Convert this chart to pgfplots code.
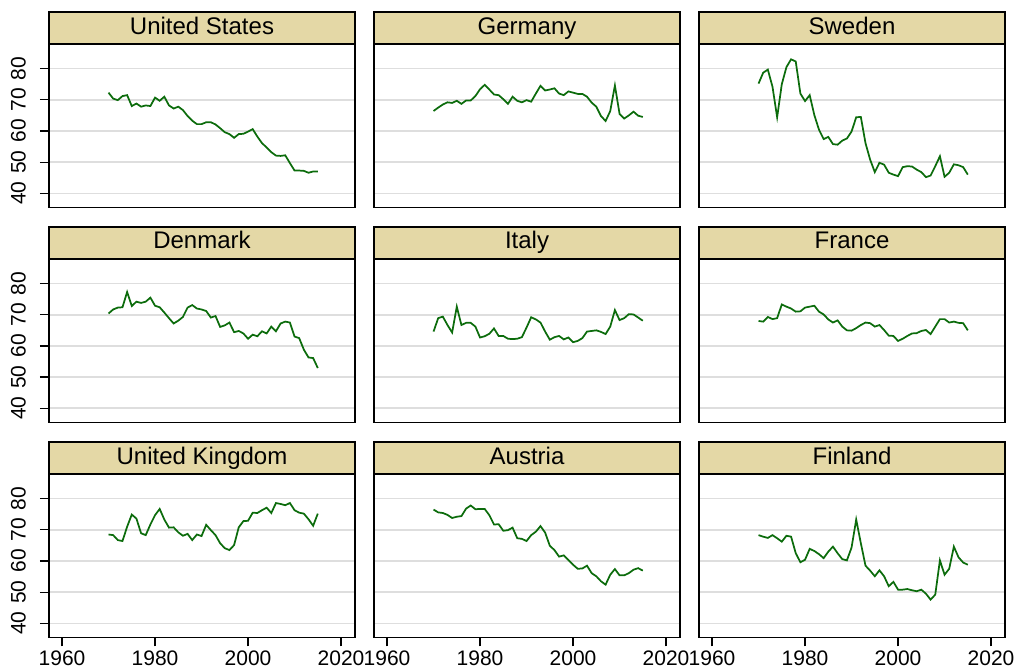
\documentclass[border=0pt]{standalone}
\usepackage{fontspec}
\setmainfont{Liberation Sans}
\usepackage{pgfplots}
\usepackage{pgfplotstable}
\pgfplotsset{compat=1.18}
\definecolor{strip}{RGB}{228,216,166}
\definecolor{lgreen}{RGB}{12,108,12}
\definecolor{gridc}{RGB}{222,222,222}

\pgfplotstableread{
year us de se dk it fr uk at fi
1970 72.3 66.4 75.2 70.4 64.6 68.0 68.5 76.5 68.3
1971 70.4 67.5 78.7 71.7 68.9 67.8 68.3 75.6 67.8
1972 69.9 68.5 79.7 72.3 69.4 69.3 66.7 75.4 67.4
1973 71.2 69.2 74.2 72.4 66.7 68.6 66.4 74.8 68.3
1974 71.5 69.0 64.4 77.3 64.3 68.9 71.0 73.8 67.3
1975 68.0 69.7 75.0 72.8 72.6 73.3 74.9 74.2 66.2
1976 68.8 68.7 80.5 74.2 66.7 72.6 73.6 74.4 68.1
1977 67.8 69.8 83.0 73.8 67.4 72.0 68.9 76.8 67.8
1978 68.2 69.8 82.3 74.2 67.4 71.0 68.3 77.8 62.5
1979 68.0 71.2 72.0 75.5 66.2 71.1 71.7 76.6 59.6
1980 70.7 73.4 69.6 72.9 62.7 72.3 74.7 76.7 60.4
1981 69.7 74.8 71.5 72.4 63.1 72.6 76.7 76.7 63.9
1982 71.0 73.3 65.1 70.7 63.9 72.9 73.3 74.7 63.2
1983 68.2 71.7 60.4 68.9 65.6 71.0 70.7 71.7 62.2
1984 67.2 71.5 57.4 67.2 63.2 70.1 70.8 71.8 60.9
1985 67.8 70.2 58.1 68.1 63.2 68.5 69.2 69.7 63.0
1986 66.7 68.7 55.8 69.3 62.3 67.5 68.1 69.9 64.6
1987 64.8 71.0 55.6 72.3 62.2 68.2 68.7 70.7 62.5
1988 63.3 69.7 56.9 73.1 62.3 66.2 66.7 67.3 60.6
1989 62.2 69.2 57.6 72.0 62.8 65.0 68.5 67.1 60.2
1990 62.2 69.9 59.8 71.7 65.9 64.9 68.0 66.4 64.3
1991 62.8 69.4 64.4 71.2 69.2 65.7 71.6 68.3 73.3
1992 62.8 72.0 64.5 69.1 68.5 66.7 69.9 69.4 65.7
1993 62.1 74.5 56.1 69.6 67.5 67.5 68.3 71.2 58.5
1994 60.9 73.0 50.8 66.1 64.6 67.3 65.7 69.1 56.9
1995 59.6 73.3 46.8 66.6 62.0 66.2 64.1 64.9 55.1
1996 59.0 73.7 49.8 67.5 62.8 66.7 63.5 63.5 57.0
1997 57.8 72.0 49.2 64.4 63.2 65.1 65.1 61.4 55.1
1998 59.0 71.5 46.6 64.8 62.1 63.3 70.8 61.8 51.9
1999 59.1 72.7 46.0 64.0 62.7 63.2 72.8 60.3 53.3
2000 59.8 72.3 45.5 62.3 61.2 61.6 72.9 58.8 50.8
2001 60.6 71.9 48.4 63.6 61.6 62.3 75.5 57.5 50.8
2002 58.2 71.9 48.7 63.1 62.5 63.2 75.4 57.6 51.0
2003 56.1 71.0 48.6 64.7 64.6 64.0 76.3 58.5 50.6
2004 54.7 69.1 47.6 64.0 64.8 64.1 77.1 56.1 50.3
2005 53.2 67.8 46.8 66.2 65.0 64.8 75.4 55.1 50.8
2006 52.1 64.8 45.2 64.7 64.5 65.1 78.6 53.5 49.5
2007 52.0 63.2 45.7 67.2 63.8 63.8 78.3 52.4 47.6
2008 52.2 66.4 48.7 67.8 66.2 66.2 77.9 55.6 49.2
2009 49.7 74.6 51.9 67.5 71.5 68.6 78.6 57.4 60.2
2010 47.3 65.5 45.3 63.0 68.3 68.6 76.3 55.4 55.6
2011 47.3 64.0 46.6 62.5 68.9 67.5 75.5 55.4 57.5
2012 47.2 65.0 49.3 58.8 70.2 67.8 75.2 56.1 64.6
2013 46.6 66.2 49.0 56.3 70.1 67.4 73.4 57.2 61.2
2014 47.0 64.9 48.4 56.1 69.1 67.3 71.3 57.7 59.5
2015 47.0 64.5 46.0 52.9 68.1 65.0 75.2 56.9 58.8
}\data

\pgfplotsset{
  series/.style={line width=1.3pt, color=lgreen, mark=none},
  panel/.style={
    anchor=south west,
    width=229.5pt, height=122pt, scale only axis,
    xmin=1957.2, xmax=2023, ymin=35.5, ymax=87.7,
    ytick={40,50,60,70,80}, xtick={1960,1980,2000,2020},
    xtick pos=bottom, ytick pos=left,
    ymajorgrids, major grid style={gridc, line width=1.2pt},
    axis line style={black, line width=0.9pt},
    tick style={black, line width=0.9pt},
    tick align=outside, major tick length=6.75pt,
    /pgf/number format/1000 sep={},
    /pgf/number format/assume math mode=true,
    tick label style={font=\fontsize{15.75}{18}\selectfont},
    every axis title shift=0pt,
    title style={at={(rel axis cs:0.5,1)}, anchor=south, yshift=0pt,
      fill=strip, draw=black, line width=0.9pt,
      minimum width=229.5pt, minimum height=24pt, inner sep=0pt,
      text height=12.5pt, text depth=3.5pt,
      font=\fontsize{18}{20}\selectfont},
    yticklabel style={rotate=90, anchor=south},
    yticklabel shift=7pt,
    xticklabel style={inner sep=0pt, yshift=-3pt},
  },
  leftcol/.style={},
  othercol/.style={yticklabels={}, ytick style={draw=none}},
  toprow/.style={xticklabels={}, xtick style={draw=none}},
  botrow/.style={},
}

\begin{document}
\begin{tikzpicture}
\useasboundingbox (0,0) rectangle (762pt,501pt);
% row 1
\begin{axis}[panel, leftcol, toprow, at={(36.75pt,345.5pt)}, title={United States}]
\addplot[series] table[x=year,y=us] {\data};
\end{axis}
\begin{axis}[panel, othercol, toprow, at={(280.5pt,345.5pt)}, title={Germany}]
\addplot[series] table[x=year,y=de] {\data};
\end{axis}
\begin{axis}[panel, othercol, toprow, at={(524.25pt,345.5pt)}, title={Sweden}]
\addplot[series] table[x=year,y=se] {\data};
\end{axis}
% row 2
\begin{axis}[panel, leftcol, toprow, at={(36.75pt,184.3pt)}, title={Denmark}]
\addplot[series] table[x=year,y=dk] {\data};
\end{axis}
\begin{axis}[panel, othercol, toprow, at={(280.5pt,184.3pt)}, title={Italy}]
\addplot[series] table[x=year,y=it] {\data};
\end{axis}
\begin{axis}[panel, othercol, toprow, at={(524.25pt,184.3pt)}, title={France}]
\addplot[series] table[x=year,y=fr] {\data};
\end{axis}
% row 3
\begin{axis}[panel, leftcol, botrow, at={(36.75pt,23pt)}, title={United Kingdom}]
\addplot[series] table[x=year,y=uk] {\data};
\end{axis}
\begin{axis}[panel, othercol, botrow, at={(280.5pt,23pt)}, title={Austria}]
\addplot[series] table[x=year,y=at] {\data};
\end{axis}
\begin{axis}[panel, othercol, botrow, at={(524.25pt,23pt)}, title={Finland}]
\addplot[series] table[x=year,y=fi] {\data};
\end{axis}
\end{tikzpicture}
\end{document}
